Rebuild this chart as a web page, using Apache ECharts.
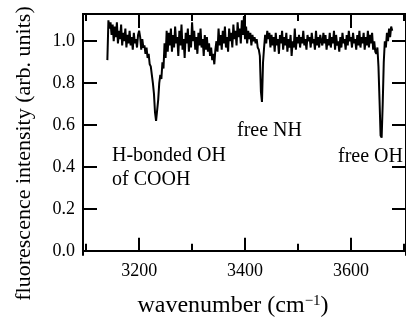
<!DOCTYPE html>
<html lang="en">
<head>
<meta charset="UTF-8">
<title>fluorescence spectrum</title>
<script src="https://cdn.jsdelivr.net/npm/echarts@6/dist/echarts.min.js"></script>
<style>
    html, body {margin: 0; padding: 0; background: #fff;}
    #chart {width: 406px; height: 323px;}
</style>
</head>
<body>
<div id="chart"></div>
<script>
// wavenumber (cm-1) and fluorescence intensity
const wavenumber = [
    3140, 3142, 3144, 3146, 3148, 3150, 3152, 3154, 3156, 3158,
    3160, 3162, 3164, 3166, 3168, 3170, 3172, 3174, 3176, 3178,
    3180, 3182, 3184, 3186, 3188, 3190, 3192, 3194, 3196, 3198,
    3200, 3202, 3204, 3206, 3208, 3210, 3212, 3214, 3216, 3218,
    3220, 3222, 3224, 3226, 3228, 3230, 3232, 3234, 3236, 3238,
    3240, 3242, 3244, 3246, 3248, 3250, 3252, 3254, 3256, 3258,
    3260, 3262, 3264, 3266, 3268, 3270, 3272, 3274, 3276, 3278,
    3280, 3282, 3284, 3286, 3288, 3290, 3292, 3294, 3296, 3298,
    3300, 3302, 3304, 3306, 3308, 3310, 3312, 3314, 3316, 3318,
    3320, 3322, 3324, 3326, 3328, 3330, 3332, 3334, 3336, 3338,
    3340, 3342, 3344, 3346, 3348, 3350, 3352, 3354, 3356, 3358,
    3360, 3362, 3364, 3366, 3368, 3370, 3372, 3374, 3376, 3378,
    3380, 3382, 3384, 3386, 3388, 3390, 3392, 3394, 3396, 3398,
    3400, 3402, 3404, 3406, 3408, 3410, 3412, 3414, 3416, 3418,
    3420, 3422, 3424, 3426, 3428, 3430, 3432, 3434, 3436, 3438,
    3440, 3442, 3444, 3446, 3448, 3450, 3452, 3454, 3456, 3458,
    3460, 3462, 3464, 3466, 3468, 3470, 3472, 3474, 3476, 3478,
    3480, 3482, 3484, 3486, 3488, 3490, 3492, 3494, 3496, 3498,
    3500, 3502, 3504, 3506, 3508, 3510, 3512, 3514, 3516, 3518,
    3520, 3522, 3524, 3526, 3528, 3530, 3532, 3534, 3536, 3538,
    3540, 3542, 3544, 3546, 3548, 3550, 3552, 3554, 3556, 3558,
    3560, 3562, 3564, 3566, 3568, 3570, 3572, 3574, 3576, 3578,
    3580, 3582, 3584, 3586, 3588, 3590, 3592, 3594, 3596, 3598,
    3600, 3602, 3604, 3606, 3608, 3610, 3612, 3614, 3616, 3618,
    3620, 3622, 3624, 3626, 3628, 3630, 3632, 3634, 3636, 3638,
    3640, 3642, 3644, 3646, 3648, 3650, 3652, 3654, 3656, 3658,
    3660, 3662, 3664, 3666, 3668, 3670, 3672, 3674, 3676, 3678
];
const intensity = [
    0.91, 1.10, 1.06, 1.09, 1.03, 1.08, 1.00, 1.07, 1.02, 1.09,
    0.99, 1.05, 1.01, 1.08, 0.98, 1.04, 1.00, 1.06, 0.97, 1.03,
    0.99, 1.05, 0.98, 1.02, 0.96, 1.04, 0.99, 1.01, 0.97, 1.03,
    1.05, 1.02, 0.96, 1.01, 0.97, 0.98, 0.94, 0.97, 0.92, 0.94,
    0.89, 0.88, 0.84, 0.80, 0.75, 0.66, 0.62, 0.67, 0.72, 0.80,
    0.84, 0.82, 0.90, 0.87, 0.99, 0.92, 1.05, 0.95, 1.04, 0.98,
    1.06, 0.95, 1.03, 0.97, 1.07, 0.99, 1.02, 0.93, 1.05, 0.98,
    1.08, 0.96, 1.01, 0.92, 1.04, 0.99, 1.06, 0.95, 1.03, 0.97,
    1.09, 1.00, 1.05, 0.96, 1.02, 0.94, 1.04, 0.98, 1.06, 0.97,
    1.01, 0.93, 1.03, 0.96, 1.02, 0.95, 0.99, 0.93, 0.97, 0.91,
    0.94, 0.89, 0.96, 1.00, 0.95, 1.06, 0.98, 1.03, 0.96, 1.05,
    0.99, 1.07, 0.97, 1.02, 0.95, 1.06, 1.00, 1.04, 0.97, 1.08,
    1.01, 1.05, 0.98, 1.09, 1.02, 1.06, 0.99, 1.10, 1.03, 1.12,
    1.01, 1.07, 0.99, 1.05, 1.01, 1.04, 0.98, 1.03, 1.00, 1.02,
    0.99, 1.01, 0.97, 0.96, 0.93, 0.76, 0.71, 0.90, 0.97, 1.03,
    0.99, 1.05, 1.01, 1.04, 0.97, 1.03, 0.98, 1.02, 0.95, 1.04,
    0.98, 1.01, 0.94, 1.03, 0.99, 1.05, 0.96, 1.02, 0.98, 1.04,
    0.95, 1.01, 0.97, 1.03, 0.93, 1.00, 0.97, 1.06, 0.96, 1.02,
    0.99, 1.03, 0.97, 1.02, 0.99, 1.05, 0.98, 1.01, 0.96, 1.03,
    1.00, 1.02, 0.97, 1.04, 0.99, 1.01, 0.96, 1.05, 0.98, 1.02,
    0.97, 1.03, 1.00, 0.98, 1.04, 0.99, 1.03, 0.96, 1.01, 0.98,
    1.04, 0.97, 1.02, 0.99, 1.05, 0.96, 1.03, 0.98, 1.00, 0.95,
    1.02, 0.97, 1.04, 0.99, 1.01, 0.96, 1.03, 0.98, 1.05, 1.00,
    1.02, 0.97, 1.04, 0.99, 1.01, 0.96, 1.03, 0.98, 1.05, 0.97,
    1.02, 0.99, 1.04, 0.96, 1.02, 0.98, 1.05, 0.97, 1.03, 0.99,
    1.04, 0.96, 1.00, 0.95, 0.94, 0.97, 0.88, 0.72, 0.55, 0.54,
    0.70, 0.90, 1.00, 0.97, 1.04, 1.00, 1.06, 1.02, 1.07, 1.05
];
const xMajorTicks = [3200, 3400, 3600];
const xMinorTicks = [3100, 3300, 3500, 3700];
const yTicks = [0, 0.2, 0.4, 0.6, 0.8, 1.0];

const font = '"Liberation Serif", serif';
const black = '#000';

// one x axis per tick length (major / minor), on both bottom and top
function xAxisDef(position, ticks, length, withLabels) {
    return {
        type: 'value', position: position, min: 3094, max: 3704,
        axisLine: {show: true, lineStyle: {color: black, width: 2}},
        axisTick: {show: true, inside: true, length: length, customValues: ticks,
            lineStyle: {color: black, width: 2}},
        axisLabel: withLabels ? {show: true, customValues: ticks, margin: 7,
            color: black, fontFamily: font, fontSize: 18,
            formatter: v => String(v)} : {show: false},
        splitLine: {show: false}
    };
}

function yAxisDef(position, withLabels) {
    return {
        type: 'value', position: position, min: -0.02, max: 1.13,
        axisLine: {show: true, lineStyle: {color: black, width: 2}},
        axisTick: {show: true, inside: true, length: 14, customValues: yTicks,
            lineStyle: {color: black, width: 2}},
        axisLabel: withLabels ? {show: true, customValues: yTicks, margin: 8,
            color: black, fontFamily: font, fontSize: 18,
            formatter: v => v.toFixed(1)} : {show: false},
        splitLine: {show: false}
    };
}

const chart = echarts.init(document.getElementById('chart'));

const xBottom = xAxisDef('bottom', xMajorTicks, 13, true);
xBottom.name = '{t|wavenumber (cm}{s|\u22121}{t|)}';
xBottom.nameLocation = 'middle';
xBottom.nameGap = 39;
xBottom.nameTextStyle = {
    padding: [0, 23, 0, 0],
    rich: {
        t: {fontFamily: font, fontSize: 24, color: black},
        s: {fontFamily: font, fontSize: 15, color: black, verticalAlign: 'top'}
    }
};

const yLeft = yAxisDef('left', true);
yLeft.name = 'fluorescence intensity (arb. units)';
yLeft.nameLocation = 'middle';
yLeft.nameGap = 48;
yLeft.nameTextStyle = {fontFamily: font, fontSize: 22, color: black, padding: [0, 38, 0, 0]};

chart.setOption({
    animation: false,
    backgroundColor: '#fff',
    grid: {left: 83, top: 14, width: 330, height: 248},
    xAxis: [
        xBottom,
        xAxisDef('bottom', xMinorTicks, 7, false),
        xAxisDef('top', xMajorTicks, 14, false),
        xAxisDef('top', xMinorTicks, 7, false)
    ],
    yAxis: [yLeft, yAxisDef('right', false)],
    series: [{
        type: 'line',
        xAxisIndex: 0,
        yAxisIndex: 0,
        data: wavenumber.map((w, i) => [w, intensity[i]]),
        showSymbol: false,
        lineStyle: {color: black, width: 2},
        clip: true
    }],
    graphic: [
        {type: 'text', left: 112, top: 144,
            style: {text: 'H-bonded OH\nof COOH', font: '20px "Liberation Serif"', lineHeight: 24, fill: black}},
        {type: 'text', left: 237, top: 121,
            style: {text: 'free NH', font: '20px "Liberation Serif"', fill: black}},
        {type: 'text', left: 338, top: 147,
            style: {text: 'free OH', font: '20px "Liberation Serif"', fill: black}}
    ]
});
</script>
</body>
</html>
